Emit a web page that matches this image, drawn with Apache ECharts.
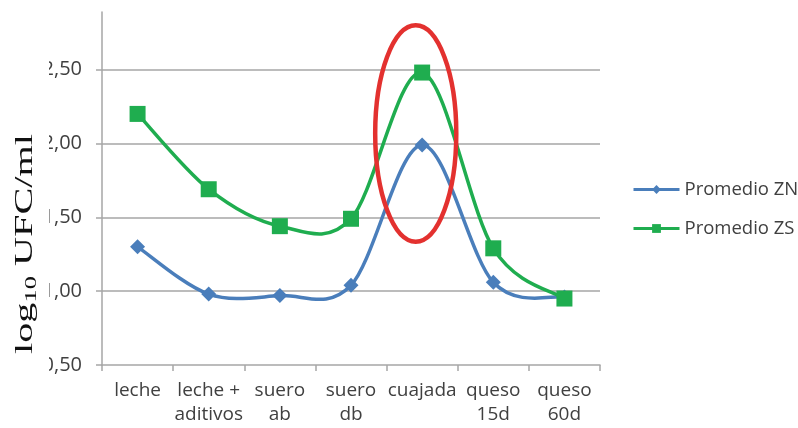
<!DOCTYPE html>
<html>
<head>
<meta charset="utf-8">
<script src="https://cdn.jsdelivr.net/npm/echarts@6/dist/echarts.min.js"></script>
<style>
  html, body { margin: 0; padding: 0; background: #fff; }
  #chart { width: 798px; height: 428px; }
</style>
</head>
<body>
<div id="chart"></div>
<script>
// Etapas del proceso
const categories = ['leche', 'leche +\naditivos', 'suero\nab', 'suero\ndb', 'cuajada', 'queso\n15d', 'queso\n60d'];
// log10 UFC/ml por zona
const promedioZN = [1.30, 0.98, 0.97, 1.04, 1.99, 1.06, 0.96];
const promedioZS = [2.20, 1.69, 1.44, 1.49, 2.48, 1.29, 0.95];
// Eje Y
const yMin = 0.5;
const yMax = 2.89;
const yStep = 0.5;
// Zona resaltada (cuajada): rango vertical en unidades del eje
const highlightCategory = 'cuajada';
const highlightRange = [1.335, 2.80];

const blue = '#4a7ebb';
const green = '#1fad4f';
const axisGray = '#a6a6a6';
const textColor = '#404040';
const sansFont = '"Open Sans", "Liberation Sans", sans-serif';

// Curva suavizada tipo Catmull-Rom: cada punto dibuja el tramo hasta el siguiente
function smoothSegment(values, color) {
  return function (params, api) {
    const i = params.dataIndex;
    const n = values.length;
    if (i >= n - 1) return null;
    const p = j => api.coord([Math.max(0, Math.min(n - 1, j)), values[Math.max(0, Math.min(n - 1, j))]]);
    const p0 = p(i - 1), p1 = p(i), p2 = p(i + 1), p3 = p(i + 2);
    return {
      type: 'bezierCurve',
      shape: {
        x1: p1[0], y1: p1[1],
        cpx1: p1[0] + (p2[0] - p0[0]) / 6, cpy1: p1[1] + (p2[1] - p0[1]) / 6,
        cpx2: p2[0] - (p3[0] - p1[0]) / 6, cpy2: p2[1] - (p3[1] - p1[1]) / 6,
        x2: p2[0], y2: p2[1]
      },
      style: { fill: null, stroke: color, lineWidth: 3.5, lineCap: 'round' }
    };
  };
}

const chart = echarts.init(document.getElementById('chart'), null, { renderer: 'canvas' });

const option = {
  animation: false,
  backgroundColor: '#ffffff',
  grid: { left: 102, right: 198, top: 12, bottom: 63, containLabel: false },
  legend: {
    data: ['Promedio ZN', 'Promedio ZS'],
    orient: 'vertical',
    left: 632,
    top: 180,
    padding: 0,
    itemWidth: 46,
    itemHeight: 11,
    itemGap: 20,
    lineStyle: { opacity: 1, width: 3 },
    textStyle: { fontFamily: sansFont, fontSize: 18.5, color: textColor }
  },
  xAxis: {
    type: 'category',
    data: categories,
    boundaryGap: true,
    axisLine: { lineStyle: { color: axisGray, width: 1.5 } },
    axisTick: { show: true, interval: 0, length: 6, lineStyle: { color: axisGray, width: 1.5 } },
    axisLabel: {
      interval: 0, margin: 14, color: textColor,
      fontFamily: sansFont, fontSize: 19, lineHeight: 24
    },
    splitLine: { show: false }
  },
  yAxis: {
    type: 'value',
    min: yMin,
    max: yMax,
    interval: yStep,
    axisLine: { show: true, lineStyle: { color: axisGray, width: 1.5 } },
    axisTick: { show: true, length: 6, lineStyle: { color: axisGray, width: 1.5 } },
    axisLabel: {
      margin: 20, color: textColor, fontFamily: sansFont, fontSize: 20,
      showMaxLabel: false,
      formatter: v => v.toFixed(2).replace('.', ',')
    },
    splitLine: { show: true, showMaxLine: false, showMinLine: false, lineStyle: { color: axisGray, width: 1.5 } }
  },
  series: [
    {
      name: 'curvaZN',
      type: 'custom',
      data: promedioZN.map((v, i) => [i, v]),
      encode: { x: 0, y: 1 },
      renderItem: smoothSegment(promedioZN, blue),
      silent: true
    },
    {
      name: 'Promedio ZN',
      type: 'line',
      data: promedioZN,
      symbol: 'diamond',
      symbolSize: 15,
      color: blue,
      lineStyle: { width: 3, color: blue, opacity: 0 },
      itemStyle: { color: blue }
    },
    {
      name: 'curvaZS',
      type: 'custom',
      data: promedioZS.map((v, i) => [i, v]),
      encode: { x: 0, y: 1 },
      renderItem: smoothSegment(promedioZS, green),
      silent: true
    },
    {
      name: 'Promedio ZS',
      type: 'line',
      data: promedioZS,
      symbol: 'rect',
      symbolSize: 16,
      color: green,
      lineStyle: { width: 3, color: green, opacity: 0 },
      itemStyle: { color: green }
    }
  ]
};

chart.setOption(option);

// Elipse que marca la etapa de cuajada y título del eje Y
const ellTop = chart.convertToPixel({ gridIndex: 0 }, [highlightCategory, highlightRange[1]]);
const ellBottom = chart.convertToPixel({ gridIndex: 0 }, [highlightCategory, highlightRange[0]]);
const catA = chart.convertToPixel({ xAxisIndex: 0 }, categories[0]);
const catB = chart.convertToPixel({ xAxisIndex: 0 }, categories[1]);
const bandWidth = catB - catA;

chart.setOption({
  graphic: [
    {
      type: 'ellipse',
      z: 50,
      shape: {
        cx: ellTop[0] - bandWidth * 0.09,
        cy: (ellTop[1] + ellBottom[1]) / 2,
        rx: bandWidth * 0.57,
        ry: (ellBottom[1] - ellTop[1]) / 2
      },
      style: { fill: 'none', stroke: '#e3312f', lineWidth: 4.5 }
    },
    {
      type: 'rect',
      z: 100,
      zlevel: 0,
      x: 0,
      y: 0,
      shape: { x: 0, y: 0, width: 49, height: 428 },
      style: { fill: '#ffffff' }
    },
    {
      type: 'text',
      z: 101,
      x: 25,
      y: 244,
      rotation: Math.PI / 2,
      scaleX: 1.55,
      style: {
        text: 'log{s|10} UFC/ml',
        fontFamily: 'Liberation Serif',
        fontWeight: 'normal',
        fontSize: 26,
        lineHeight: 30,
        fill: '#111111',
        align: 'center',
        verticalAlign: 'middle',
        rich: {
          s: { fontSize: 17, lineHeight: 17, verticalAlign: 'bottom', fontFamily: 'Liberation Serif', fontWeight: 'normal', fill: '#111111' }
        }
      }
    }
  ]
});
</script>
</body>
</html>
